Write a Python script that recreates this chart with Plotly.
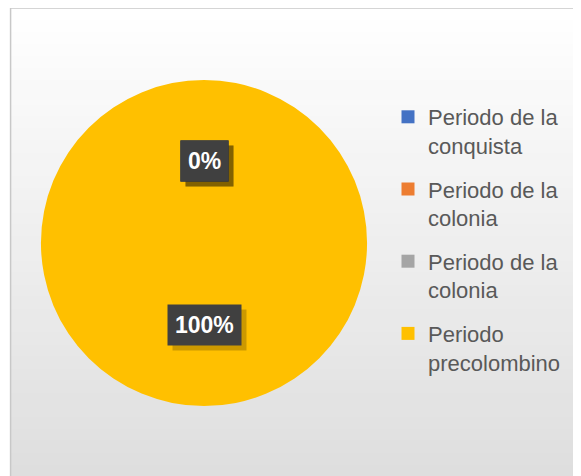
import math
import plotly.graph_objects as go

# Data
categories = ['Periodo de la conquista', 'Periodo de la colonia',
              'Periodo de la colonia', 'Periodo precolombino']
legend_text = ['Periodo de la<br>conquista', 'Periodo de la<br>colonia',
               'Periodo de la<br>colonia', 'Periodo<br>precolombino']
values = [0, 0, 0, 100]
colors = ['#4472C4', '#ED7D31', '#A5A5A5', '#FFC000']

W, H = 581, 476
OFF = 8  # page body margin offsets the figure

fig = go.Figure()

# pie (full circle, clockwise from 12 o'clock like Excel)
cx, cy, r = 204 - OFF, 243 - OFF, 163
fig.add_trace(go.Pie(
    labels=[f'{c} #{i}' for i, c in enumerate(categories)],
    values=values,
    marker=dict(colors=colors, line=dict(width=0)),
    sort=False, direction='clockwise', rotation=0,
    textinfo='none', hoverinfo='label+percent', showlegend=False,
    domain=dict(x=[(cx - r) / W, (cx + r) / W],
                y=[(H - cy - r) / H, (H - cy + r) / H]),
))

# legend entries (separate traces so duplicated names stay separate)
for i, (txt, col) in enumerate(zip(legend_text, colors)):
    fig.add_trace(go.Scatter(
        x=[None], y=[None], mode='markers', name=txt,
        marker=dict(symbol='square', size=13, color=col),
        legendgroup=f'g{i}', showlegend=True,
    ))

# data labels at slice midpoints, half radius
total = sum(values)
cum = 0
for v in values:
    mid = (cum + v / 2) / total
    cum += v
    ang = 2 * math.pi * mid
    px_ = cx + 0.5 * r * math.sin(ang)
    py_ = cy - 0.5 * r * math.cos(ang)
    label = f'{round(100 * v / total)}%'
    for shadow in (True, False):
        fig.add_annotation(
            x=px_ / W, y=1 - py_ / H, xref='paper', yref='paper',
            xanchor='center', yanchor='middle',
            text=f'<b>{label}</b>', showarrow=False,
            font=dict(family='Liberation Sans', size=23,
                      color='rgba(0,0,0,0)' if shadow else 'white'),
            bgcolor='rgba(0,0,0,0.2)' if shadow else '#404040',
            borderpad=7,
            xshift=5 if shadow else 0, yshift=-5 if shadow else 0,
        )

# chart area background gradient + border
x_left = (10 - OFF) / W
y_top = 1 - (6 - OFF + 2) / H
steps = 40
for k in range(steps):
    g = int(255 - (255 - 222) * k / (steps - 1))
    y0 = y_top - (y_top + 0.01) * k / steps
    y1 = y_top - (y_top + 0.01) * (k + 1) / steps
    fig.add_shape(type='rect', xref='paper', yref='paper',
                  x0=x_left, x1=1.01, y0=y1 - 0.003, y1=y0,
                  fillcolor=f'rgb({g},{g},{g})', line=dict(width=0),
                  layer='below')
fig.add_shape(type='rect', xref='paper', yref='paper',
              x0=x_left + 0.001, x1=1.01, y0=-0.01, y1=y_top,
              line=dict(color='#c8c8c8', width=1.5), layer='below')

fig.update_layout(
    width=W, height=H,
    margin=dict(l=0, r=0, t=0, b=0),
    paper_bgcolor='white', plot_bgcolor='rgba(0,0,0,0)',
    xaxis=dict(visible=False), yaxis=dict(visible=False),
    legend=dict(x=(388 - OFF) / W, y=1 - (96 - OFF) / H,
                xanchor='left', yanchor='top',
                bgcolor='rgba(0,0,0,0)', valign='top', tracegroupgap=12,
                font=dict(family='Liberation Sans', size=22, color='#595959'),
                itemclick=False),
)

fig.write_html("out.html")
